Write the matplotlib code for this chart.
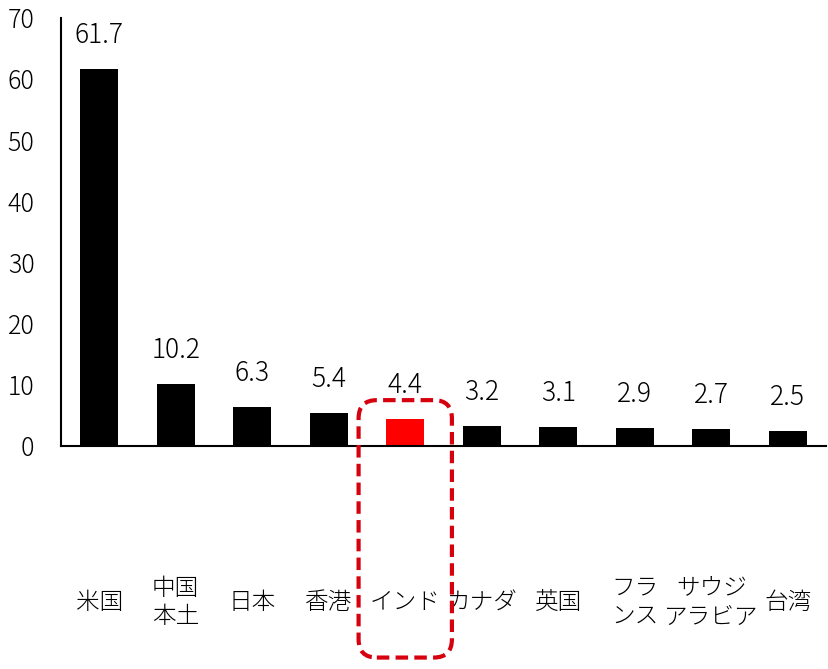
import matplotlib
matplotlib.use('Agg')
import matplotlib.pyplot as plt
from matplotlib.patches import FancyBboxPatch

plt.rcParams['font.family'] = ['Noto Sans CJK JP', 'DejaVu Sans']
plt.rcParams['font.weight'] = 'light'

countries = ['米国', '中国\n本土', '日本', '香港', 'インド', 'カナダ', '英国',
             'フラ\nンス', 'サウジ\nアラビア', '台湾']
values = [61.7, 10.2, 6.3, 5.4, 4.4, 3.2, 3.1, 2.9, 2.7, 2.5]
highlight = 'インド'

W, H = 829, 669
fig = plt.figure(figsize=(W / 100, H / 100), dpi=100)
ax = fig.add_axes([61 / W, (H - 446) / H, 765 / W, 428 / H])

colors = ['#ff0000' if c == highlight else 'black' for c in countries]
x = list(range(len(countries)))
ax.bar(x, values, width=0.5, color=colors)

for xi, v in zip(x, values):
    ax.annotate(f'{v:.1f}', (xi, v), xytext=(0, 24.5), textcoords='offset points',
                ha='center', va='center', fontsize=19)

for xi, c in zip(x, countries):
    ax.text(xi, -25.6, c, ha='center', va='center', fontsize=17,
            linespacing=1.2, clip_on=False)

ax.set_xlim(-0.5, len(countries) - 0.5)
ax.set_ylim(0, 70)
ax.set_yticks(range(0, 71, 10))
ax.set_xticks([])
ax.tick_params(axis='y', length=0, pad=19, labelsize=18)
for s in ['top', 'right']:
    ax.spines[s].set_visible(False)
for s in ['left', 'bottom']:
    ax.spines[s].set_linewidth(1.5)

# dashed rounded box around the highlighted country
i = countries.index(highlight)
(x0, y0) = ax.transData.transform((i - 0.61, 7.5))
(x1, y1) = ax.transData.transform((i + 0.61, -34.6))
inv = fig.transFigure.inverted()
fx0, fy1 = inv.transform((x0, y1))
fx1, fy0 = inv.transform((x1, y0))
box = FancyBboxPatch((fx0, fy1), fx1 - fx0, fy0 - fy1,
                     boxstyle='round,pad=0,rounding_size=0.022',
                     mutation_aspect=W / H,
                     transform=fig.transFigure, fill=False,
                     edgecolor='#d7000f', linewidth=3, linestyle=(0, (3, 1.5)))
fig.add_artist(box)

fig.savefig('out.png', dpi=100)
